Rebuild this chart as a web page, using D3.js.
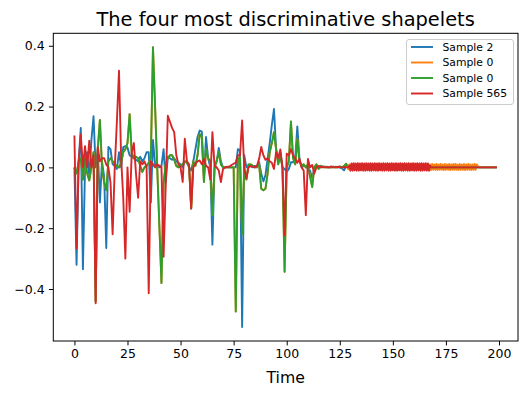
<!DOCTYPE html>
<html>
<head>
<meta charset="utf-8">
<script src="https://cdn.jsdelivr.net/npm/d3@7"></script>
<style>
html,body{margin:0;padding:0;background:#fff;}
svg{display:block;font-family:"DejaVu Sans",sans-serif;}
</style>
</head>
<body>
<svg id="chart" width="528" height="395"></svg>
<script>
// ---- data ----
const seriesNames = ["Sample 2", "Sample 0", "Sample 0", "Sample 565"];
const seriesColors = ["#1f77b4", "#ff7f0e", "#2ca02c", "#d62728"];
const xTicks = [0, 25, 50, 75, 100, 125, 150, 175, 200];
const yTicks = [-0.4, -0.2, 0.0, 0.2, 0.4];

// Sample 2 (blue), one value per time step 0..199
const sample2 = [
 0.0, -0.32, 0.02, 0.13, -0.335, 0.0, 0.05, -0.03, 0.09, 0.168,
 0.0, 0.06, -0.115, 0.02, -0.03, -0.265, 0.067, 0.06, 0.01, 0.005,
 -0.005, 0.05, 0.0, 0.067, 0.07, 0.065, 0.04, 0.035, 0.03, 0.025,
 0.02, 0.035, 0.02, 0.03, 0.05, 0.05, -0.115, 0.09, 0.01, 0.005,
 0.0, 0.005, 0.06, -0.05, 0.035, 0.03, 0.025, 0.03, 0.02, 0.015,
 0.01, 0.0, 0.02, 0.015, 0.0, -0.01, 0.02, 0.06, 0.1, 0.121,
 0.118, -0.03, 0.1, 0.03, 0.0, -0.254, 0.0, 0.02, 0.064, 0.02,
 0, 0, 0, 0, 0, 0, 0, 0.06, 0.055, -0.525,
 0.04, 0.0, 0.005, 0.005, 0.0, 0.005, 0.0, 0.017, -0.02, -0.046,
 -0.025, 0.028, 0.08, 0.14, 0.192, 0.06, 0.03, 0.05, 0.0, -0.005,
 -0.015, -0.005, 0.017, 0.017, 0.03, 0.135, 0.03, 0.0, 0.005, 0.005,
 -0.005, -0.01, -0.037, 0.0, 0.005, 0.002, 0.0, 0.003, 0.0, 0.002,
 0.0, 0.001, 0.0, 0.002, 0.0, 0.0, -0.003, -0.01, 0.005, 0.0,
 0, 0, 0, 0, 0, 0, 0, 0, 0, 0,
 0, 0, 0, 0, 0, 0, 0, 0, 0, 0,
 0, 0, 0, 0, 0, 0, 0, 0, 0, 0,
 0, 0, 0, 0, 0, 0, 0, 0, 0, 0,
 0, 0, 0, 0, 0, 0, 0, 0, 0, 0,
 0, 0, 0, 0, 0, 0, 0, 0, 0, 0,
 0, 0, 0, 0, 0, 0, 0, 0, 0, 0
];

// Sample 0 (green), one value per time step 0..199
const sample0green = [
 0.0, -0.02, 0.02, 0.03, -0.04, 0.03, -0.02, -0.043, 0.0, 0.05,
 -0.44, 0.06, 0.156, 0.0, -0.05, -0.075, 0.02, 0.03, 0.02, 0.01,
 0.005, 0.0, 0.015, 0.05, 0.06, 0.08, 0.175, 0.045, 0.03, 0.035,
 0.03, 0.005, -0.015, 0.0, 0.005, 0.015, 0.03, 0.395, 0.2, 0.0,
 -0.19, -0.38, -0.05, 0.01, 0.03, 0.04, 0.04, 0.025, 0.005, 0.0,
 0.005, 0.01, 0.02, 0.015, 0.005, -0.135, 0.02, 0.005, 0.04, 0.11,
 0.1, -0.048, 0.06, 0.03, 0.02, -0.157, 0.0, 0.02, 0.05, 0.01,
 0, 0, 0, 0, 0, 0, -0.474, 0.028, 0.034, -0.22,
 0.0, -0.04, 0.01, 0.01, 0.005, 0.0, 0.005, 0.01, -0.07, -0.075,
 -0.07, -0.02, 0.05, 0.08, 0.116, 0.06, 0.01, 0.04, 0.0, -0.343,
 0.0, 0.02, 0.151, 0.03, 0.01, 0.094, 0.02, 0.005, 0.01, 0.0,
 0.01, -0.03, -0.065, 0.0, 0.01, -0.005, 0.005, 0.0, 0.002, 0.0,
 0.001, 0.0, 0.002, 0.0, 0.0, 0.003, 0.0, 0.004, 0.012, 0.0,
 0, 0, 0, 0, 0, 0, 0, 0, 0, 0,
 0, 0, 0, 0, 0, 0, 0, 0, 0, 0,
 0, 0, 0, 0, 0, 0, 0, 0, 0, 0,
 0, 0, 0, 0, 0, 0, 0, 0, 0, 0,
 0, 0, 0, 0, 0, 0, 0, 0, 0, 0,
 0, 0, 0, 0, 0, 0, 0, 0, 0, 0,
 0, 0, 0, 0, 0, 0, 0, 0, 0, 0
];

// Sample 0 (orange): time steps 0..129, then a dense band 129.5..190 (half steps), then 191..199
const sample0orangeHead = [
 0.0, -0.02, 0.02, 0.03, -0.04, 0.03, -0.02, -0.043, 0.0, 0.05,
 -0.44, 0.06, 0.156, 0.0, -0.05, -0.075, 0.02, 0.03, 0.02, 0.01,
 0.005, 0.0, 0.015, 0.05, 0.06, 0.08, 0.175, 0.045, 0.03, 0.035,
 0.03, 0.005, -0.015, 0.0, 0.005, 0.015, 0.03, 0.395, 0.2, 0.0,
 -0.19, -0.38, -0.05, 0.01, 0.03, 0.04, 0.04, 0.025, 0.005, 0.0,
 0.005, 0.01, 0.02, 0.015, 0.005, -0.135, 0.02, 0.005, 0.04, 0.11,
 0.1, -0.048, 0.06, 0.03, 0.02, -0.157, 0.0, 0.02, 0.05, 0.01,
 0, 0, 0, 0, 0, 0, -0.474, 0.028, 0.034, -0.22,
 0.0, -0.04, 0.01, 0.01, 0.005, 0.0, 0.005, 0.01, -0.07, -0.075,
 -0.07, -0.02, 0.05, 0.08, 0.116, 0.06, 0.01, 0.04, 0.0, -0.343,
 0.0, 0.02, 0.151, 0.03, 0.01, 0.094, 0.02, 0.005, 0.01, 0.0,
 0.01, -0.03, -0.065, 0.0, 0.01, -0.005, 0.005, 0.0, 0.002, 0.0,
 0.001, 0.0, 0.002, 0.0, 0.0, 0.003, 0.0, 0.004, 0.012, -0.006
];
const sample0orangeBand = [
 0.010, -0.008, 0.011, -0.008, 0.010, -0.009, 0.011, -0.008, 0.010, -0.008,
 0.011, -0.009, 0.010, -0.008, 0.011, -0.008, 0.010, -0.009, 0.011, -0.008,
 0.010, -0.008, 0.011, -0.009, 0.010, -0.008, 0.011, -0.008, 0.010, -0.009,
 0.011, -0.008, 0.010, -0.008, 0.011, -0.009, 0.010, -0.008, 0.011, -0.008,
 0.011, -0.008, 0.010, -0.009, 0.011, -0.008, 0.010, -0.008, 0.011, -0.009,
 0.010, -0.008, 0.011, -0.008, 0.010, -0.009, 0.010, -0.008, 0.011, -0.008,
 0.010, -0.008, 0.011, -0.008, 0.010, -0.009, 0.011, -0.008, 0.010, -0.008,
 0.011, -0.009, 0.010, -0.008, 0.011, -0.008, 0.010, -0.009, 0.011, -0.008,
 0.010, -0.008, 0.011, -0.009, 0.010, -0.008, 0.011, -0.008, 0.010, -0.009,
 0.011, -0.008, 0.010, -0.008, 0.011, -0.009, 0.010, -0.008, 0.011, -0.008,
 0.011, -0.008, 0.010, -0.009, 0.011, -0.008, 0.010, -0.008, 0.011, -0.009,
 0.010, -0.008, 0.011, -0.008, 0.010, -0.009, 0.010, -0.008, 0.011, -0.008,
 0.010, 0.004
];
const sample0orangeFoot = [0, 0, 0, 0, 0, 0, 0, 0, 0];

// Sample 565 (red): time steps 0..129, dense band 129.5..167.5 (half steps), then 168..199
const sample565Head = [
 0.105, -0.267, 0.02, 0.108, 0.0, 0.07, 0.0, 0.088, 0.0, 0.04,
 -0.447, 0.067, 0.02, 0.03, 0.03, 0.01, 0.0, -0.05, -0.22, 0.0,
 0.15, 0.318, 0.03, -0.1, -0.3, 0.0, -0.146, 0.05, 0.08, -0.02,
 -0.1, 0.02, 0.01, 0.02, 0.0, -0.414, 0.02, 0.01, 0.0, 0.01,
 0.005, 0.0, -0.294, -0.06, 0.17, 0.15, 0.13, 0.116, 0.04, 0.01,
 0.0, -0.048, 0.094, 0.02, 0.01, -0.135, 0.0, 0.012, 0.02, 0.023,
 0.01, 0.028, 0.005, 0.0, -0.04, 0.116, 0.005, 0.0, -0.01, -0.048,
 -0.005, 0.0, 0.002, 0.002, 0.008, 0.012, 0.015, 0.04, 0.04, 0.154,
 -0.005, -0.037, 0.0, 0.005, 0.002, 0.0, 0.005, 0.028, 0.067, 0.04,
 0.025, 0.03, 0.02, 0.015, -0.005, 0.05, 0.03, 0.059, 0.0, -0.223,
 0.045, 0.04, 0.06, 0.04, 0.03, 0.015, 0.028, 0.0, -0.01, -0.157,
 0.028, 0.0, 0.008, -0.02, 0.0, 0.005, 0.0, 0.002, 0.0, 0.001,
 0.0, 0.003, 0.0, 0.0, 0.002, 0.0, 0.0, 0.001, 0.0, 0.0
];
const sample565Band = [
 0.006, -0.011, 0.013, -0.011, 0.014, -0.010, 0.013, -0.011, 0.014, -0.011,
 0.013, -0.010, 0.014, -0.011, 0.013, -0.011, 0.014, -0.010, 0.013, -0.011,
 0.014, -0.011, 0.013, -0.010, 0.014, -0.011, 0.013, -0.011, 0.014, -0.010,
 0.013, -0.011, 0.014, -0.011, 0.013, -0.010, 0.014, -0.011, 0.013, -0.011,
 0.014, -0.010, 0.013, -0.011, 0.014, -0.011, 0.013, -0.010, 0.014, -0.011,
 0.013, -0.011, 0.014, -0.010, 0.013, -0.011, 0.014, -0.011, 0.013, -0.010,
 0.014, -0.011, 0.013, -0.011, 0.014, -0.010, 0.013, -0.011, 0.014, -0.011,
 0.013, -0.010, 0.014, -0.011, 0.013, -0.011, 0.006
];
const sample565Foot = [
 0, 0, 0, 0, 0, 0, 0, 0, 0, 0,
 0, 0, 0, 0, 0, 0, 0, 0, 0, 0,
 0, 0, 0, 0, 0, 0, 0, 0, 0, 0,
 0, 0
];

// ---- build point lists (x = time step) ----
function steps(vals, start, step) { return vals.map((v, i) => [start + i * step, v]); }
function assemble(head, band, foot) {
  const h = steps(head, 0, 1);
  const bStart = head.length - 0.5;
  const b = steps(band, bStart, 0.5);
  const fStart = Math.floor(bStart + (band.length - 1) * 0.5) + 1;
  return h.concat(b, steps(foot, fStart, 1));
}
const allSeries = [
  steps(sample2, 0, 1),
  assemble(sample0orangeHead, sample0orangeBand, sample0orangeFoot),
  steps(sample0green, 0, 1),
  assemble(sample565Head, sample565Band, sample565Foot)
];

// ---- layout ----
const svg = d3.select("#chart");
const L = 53.3, R = 518, T = 33.3, B = 341;

const xMax = d3.max(allSeries, s => d3.max(s, p => p[0]));
const xPad = xMax * 0.05;
const x = d3.scaleLinear().domain([-xPad, xMax + xPad]).range([L, R]);
const yMin = d3.min(allSeries, s => d3.min(s, p => p[1]));
const yMax = d3.max(allSeries, s => d3.max(s, p => p[1]));
const yPad = (yMax - yMin) * 0.05;
const y = d3.scaleLinear().domain([yMin - yPad, yMax + yPad]).range([B, T]);

svg.append("defs").append("clipPath").attr("id", "clip")
  .append("rect").attr("x", L).attr("y", T).attr("width", R - L).attr("height", B - T);

const line = d3.line().x(p => x(p[0])).y(p => y(p[1]));
const g = svg.append("g").attr("clip-path", "url(#clip)");
allSeries.forEach((s, k) => {
  g.append("path").datum(s).attr("d", line)
    .attr("fill", "none").attr("stroke", seriesColors[k])
    .attr("stroke-width", 1.9).attr("stroke-linejoin", "round");
});

// axes
const xAxis = d3.axisBottom(x).tickValues(xTicks).tickSize(4.4).tickPadding(4.2).tickFormat(d3.format("d"));
const yAxis = d3.axisLeft(y).tickValues(yTicks).tickSize(4.4).tickPadding(4.2).tickFormat(d3.format(".1f"));
const gx = svg.append("g").attr("transform", `translate(0,${B})`).call(xAxis);
const gy = svg.append("g").attr("transform", `translate(${L},0)`).call(yAxis);
[gx, gy].forEach(a => {
  a.select(".domain").remove();
  a.selectAll(".tick line").attr("stroke", "#000").attr("stroke-width", 1);
  a.selectAll(".tick text").attr("fill", "#000").style("font-size", "12.5px").style("font-family", "DejaVu Sans");
});

// frame
svg.append("rect").attr("x", L).attr("y", T).attr("width", R - L).attr("height", B - T)
  .attr("fill", "none").attr("stroke", "#000").attr("stroke-width", 1);

// title and label
svg.append("text").attr("x", (L + R) / 2).attr("y", 25.5).attr("text-anchor", "middle")
  .style("font-size", "19.4px").attr("fill", "#000").text("The four most discriminative shapelets");
svg.append("text").attr("x", (L + R) / 2).attr("y", 383).attr("text-anchor", "middle")
  .style("font-size", "15.7px").attr("fill", "#000").text("Time");

// legend
const lg = svg.append("g");
lg.append("rect").attr("x", 406.5).attr("y", 39.5).attr("width", 107).attr("height", 65)
  .attr("rx", 2.5).attr("fill", "#fff").attr("fill-opacity", 0.8).attr("stroke", "#cccccc").attr("stroke-width", 1);
seriesNames.forEach((name, k) => {
  const cy = 47 + k * 15.5;
  lg.append("line").attr("x1", 411).attr("x2", 433).attr("y1", cy).attr("y2", cy)
    .attr("stroke", seriesColors[k]).attr("stroke-width", 1.9);
  lg.append("text").attr("x", 442.5).attr("y", cy + 3.9).style("font-size", "10.8px")
    .attr("fill", "#000").text(name);
});
</script>
</body>
</html>
